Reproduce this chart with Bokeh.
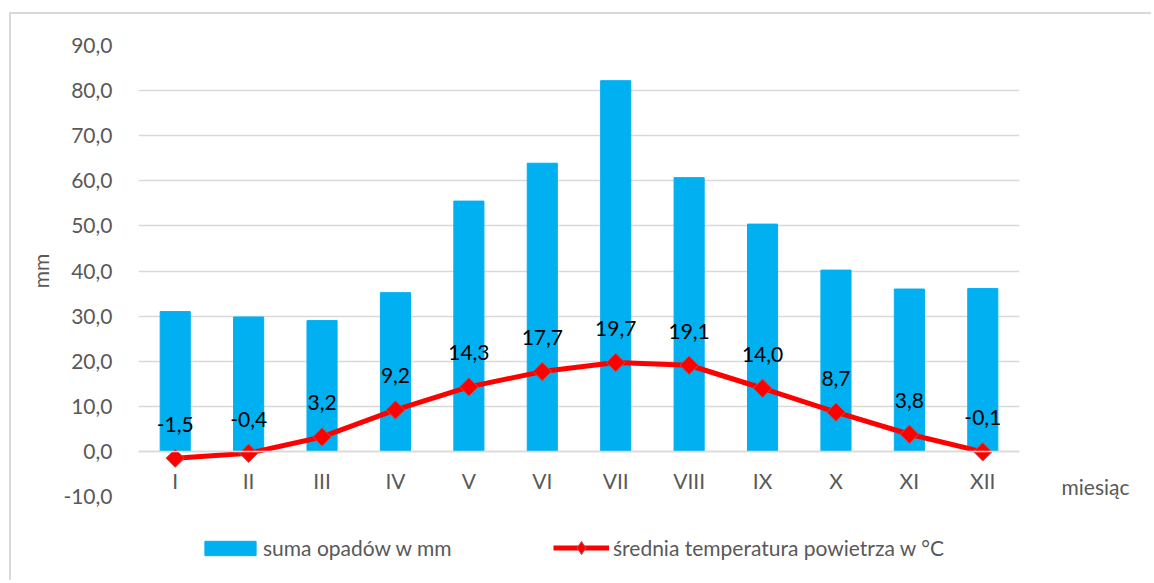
from bokeh.plotting import figure
from bokeh.layouts import column
from bokeh.models import (FactorRange, Range1d, FixedTicker, CustomJSTickFormatter,
                          Legend, LegendItem, LinearAxis, ColumnDataSource)
from bokeh.core.properties import value
from bokeh.embed import file_html
from bokeh.resources import INLINE

months = ["I", "II", "III", "IV", "V", "VI", "VII", "VIII", "IX", "X", "XI", "XII"]
precip = [31.0, 29.8, 29.0, 35.2, 55.5, 63.9, 82.2, 60.7, 50.4, 40.2, 36.0, 36.1]
temp = [-1.5, -0.4, 3.2, 9.2, 14.3, 17.7, 19.7, 19.1, 14.0, 8.7, 3.8, -0.1]
y_ticks = [-10, 0, 10, 20, 30, 40, 50, 60, 70, 80, 90]
temp_labels = [f"{v:.1f}".replace(".", ",") for v in temp]
x_title = "miesiąc"
x_title_pos = -7.8
legend_labels = ["suma opadów w mm", "średnia temperatura powietrza w °C"]

FONT = "Lato"
GREY = "#595959"
BLUE = "#00B0F0"
RED = "#FF0000"
EDGE = "#C0504D"

src = ColumnDataSource(dict(m=months, p=precip, t=temp, lab=temp_labels))

p = figure(x_range=FactorRange(*months), y_range=Range1d(-10, 90),
           width=1140, height=522, output_backend="svg", toolbar_location=None,
           min_border_left=127, min_border_right=132, min_border_top=31,
           min_border_bottom=40)
p.outline_line_color = None
p.background_fill_color = "white"
p.border_fill_color = "white"

p.vbar(x="m", top="p", width=0.41, source=src, fill_color=BLUE, line_color=BLUE)
p.line(x="m", y="t", source=src, line_color=RED, line_width=5)
p.scatter(x="m", y="t", source=src, marker="square", angle=0.785398, size=13,
          fill_color=RED, line_color=EDGE, line_width=1)
p.text(x="m", y="t", text="lab", source=src, text_align="center",
       text_baseline="middle", y_offset=-34, text_font=value(FONT),
       text_font_size="21px", text_color="black")

# category axis crossing at 0
p.xaxis.fixed_location = 0
p.xaxis.axis_line_color = "#d9d9d9"
p.xaxis.axis_line_width = 1.5
p.xaxis.major_tick_line_color = None
p.xaxis.minor_tick_line_color = None
p.xaxis.major_label_standoff = 11
p.xaxis.major_label_text_font = FONT
p.xaxis.major_label_text_font_size = "21px"
p.xaxis.major_label_text_color = GREY

p.yaxis.ticker = FixedTicker(ticks=y_ticks)
p.yaxis.formatter = CustomJSTickFormatter(code="return tick.toFixed(1).replace('.', ',');")
p.yaxis.axis_line_color = None
p.yaxis.major_tick_line_color = None
p.yaxis.minor_tick_line_color = None
p.yaxis.major_label_standoff = 20
p.yaxis.major_label_text_font = FONT
p.yaxis.major_label_text_font_size = "21px"
p.yaxis.major_label_text_color = GREY
p.yaxis.axis_label = "mm"
p.yaxis.axis_label_standoff = 7
p.yaxis.axis_label_text_font = FONT
p.yaxis.axis_label_text_font_size = "21px"
p.yaxis.axis_label_text_font_style = "normal"
p.yaxis.axis_label_text_color = GREY

p.xgrid.grid_line_color = None
p.ygrid.ticker = FixedTicker(ticks=y_ticks)
p.ygrid.grid_line_color = "#d9d9d9"
p.ygrid.grid_line_width = 1.5

# category-axis title on the right, at the level of the labels
rax = LinearAxis(ticker=FixedTicker(ticks=[x_title_pos]),
                 major_label_overrides={x_title_pos: x_title},
                 axis_line_color=None, major_tick_line_color=None,
                 minor_tick_line_color=None, major_label_standoff=36,
                 major_label_text_font=FONT, major_label_text_font_size="21px",
                 major_label_text_color=GREY)
p.add_layout(rax, "right")

# legend strip below the chart (same series; data lies outside this strip's view)
lf = figure(x_range=FactorRange(*months), y_range=Range1d(200, 201),
            width=1140, height=44, output_backend="svg", toolbar_location=None,
            x_axis_location=None, y_axis_location=None, min_border=0)
lf.outline_line_color = None
lf.xgrid.grid_line_color = None
lf.ygrid.grid_line_color = None
lf.border_fill_color = "white"
lb = lf.vbar(x="m", top="p", width=0.41, source=src, fill_color=BLUE, line_color=BLUE)
ll = lf.line(x="m", y="t", source=src, line_color=RED, line_width=5)
lm = lf.scatter(x="m", y="t", source=src, marker="diamond", size=13,
                fill_color=RED, line_color=EDGE, line_width=1)

common = dict(orientation="horizontal", border_line_color=None,
              background_fill_alpha=0, padding=0, margin=0,
              label_text_font=FONT, label_text_font_size="21px",
              label_text_color=GREY)
leg1 = Legend(items=[LegendItem(label=legend_labels[0], renderers=[lb])],
              location=(60, 20), glyph_width=64, glyph_height=18,
              label_standoff=1, **common)
leg2 = Legend(items=[LegendItem(label=legend_labels[1], renderers=[ll, lm])],
              location=(415, 16), glyph_width=56, glyph_height=33,
              label_standoff=4, **common)
lf.add_layout(leg1, "center")
lf.add_layout(leg2, "center")

layout = column(p, lf, spacing=0,
                styles={"margin-top": "12px", "margin-left": "9px",
                        "border-top": "2px solid #d9d9d9",
                        "border-left": "2px solid #d9d9d9"})

open("out.html", "w").write(file_html(layout, INLINE))
